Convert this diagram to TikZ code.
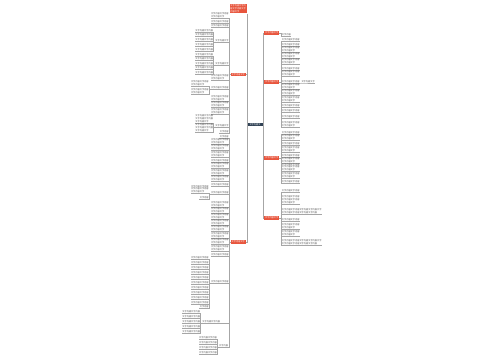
\documentclass[tikz,border=0pt]{standalone}
\usepackage{fontspec}
\newfontfamily\cjk{Noto Sans CJK SC}
\definecolor{brred}{HTML}{E8553D}
\definecolor{hubblue}{HTML}{2F4154}
\newcommand\wz{文字内容文字内容}
\newcommand\wzs{文字内容文字}
\newcommand\fillr[1]{\ifcase#1 文字内容\or \wz\or \wz\\\wzs\or \wz\\\wz\\\wzs\or \wz\wz{}文字\\\wz\wz\or \wzs\fi}

\begin{document}
\begin{tikzpicture}[x=1pt,y=-1pt,
  txt/.style={font=\cjk\fontsize{2.2}{2.8}\selectfont},
  leaf/.style={txt,inner xsep=0.3pt,inner ysep=0.4pt,align=left,text=black!70},
  branch/.style={txt,fill=brred,text=white,inner sep=0.4pt,minimum width=15pt,minimum height=3.6pt},
  hub/.style={txt,fill=hubblue,text=white,inner sep=0.4pt,minimum width=15pt,minimum height=3.6pt},
  conn/.style={draw=black!35,line width=0.3pt}]
\fill[white] (0,0) rectangle (500,360);

% centre
\node[hub] (hub) at (255,124.5) {文字内容文};
\coordinate (lt) at ([xshift=-0.5pt]hub.west);
\coordinate (rt) at ([xshift=0.5pt]hub.east);
\draw[conn] (hub.west) -- (lt);
\draw[conn] (hub.east) -- (rt);

% left branches
\node[branch,align=left,inner sep=0.8pt,anchor=south east] (T) at (lt |- 0,13.5) {文字内容文字内\\容文字内容文字\\内容文字};
\draw[conn] (lt) |- (T.south east);
\node[branch,anchor=east] (L1) at (246,74.5) {\fillr{5}};
\draw[conn] (lt) |- (L1.east);
\node[branch,anchor=east] (L2) at (246,242) {\fillr{5}};
\draw[conn] (lt) |- (L2.east);

% right branches
\node[branch,anchor=west] (R1) at (264,33) {\fillr{5}};
\draw[conn] (rt) |- (R1.west);
\node[branch,anchor=west] (R2) at (264,82) {\fillr{5}};
\draw[conn] (rt) |- (R2.west);
\node[branch,anchor=west] (R3) at (264,158) {\fillr{5}};
\draw[conn] (rt) |- (R3.west);
\node[branch,anchor=west] (R4) at (264,218) {\fillr{5}};
\draw[conn] (rt) |- (R4.west);

% L1
\coordinate (L1t) at ([xshift=-1.5pt]L1.west);
\foreach \b/\k [count=\i] in {18.5/2,23/1,27.5/1,80/2,101/2,107.5/2,114/2,133.5/0} {
  \path (L1t |- 0,\b) node[leaf,anchor=south east] (l1-\i) {\fillr{\k}};
  \draw[conn] (L1.west) -- (L1t) |- (l1-\i.south east) -- (l1-\i.south west);
}
\path (L1t |- 0,42.5) node[leaf,anchor=south east] (A) {\fillr{5}};
\draw[conn] (L1.west) -- (L1t) |- (A.south east) -- (A.south west);
\coordinate (At) at ([xshift=-1.4pt]A.south west);
\foreach \b/\k [count=\i] in {32/1,36.5/1,41/1,46/1,51/1} {
  \path (At |- 0,\b) node[leaf,anchor=south east] (a-\i) {\fillr{\k}};
  \draw[conn] (A.south west) -- (At) |- (a-\i.south east) -- (a-\i.south west);
}
\path (L1t |- 0,65) node[leaf,anchor=south east] (B) {\fillr{5}};
\draw[conn] (L1.west) -- (L1t) |- (B.south east) -- (B.south west);
\coordinate (Bt) at ([xshift=-1.4pt]B.south west);
\foreach \b/\k [count=\i] in {56/1,60.5/1,65/1,69.5/1,74/1} {
  \path (Bt |- 0,\b) node[leaf,anchor=south east] (b-\i) {\fillr{\k}};
  \draw[conn] (B.south west) -- (Bt) |- (b-\i.south east) -- (b-\i.south west);
}
\path (L1t |- 0,89.5) node[leaf,anchor=south east] (D1) {\fillr{1}};
\draw[conn] (L1.west) -- (L1t) |- (D1.south east) -- (D1.south west);
\coordinate (D1t) at ([xshift=-1.4pt]D1.south west);
\foreach \b/\k [count=\i] in {86/2,94/2} {
  \path (D1t |- 0,\b) node[leaf,anchor=south east] (d1-\i) {\fillr{\k}};
  \draw[conn] (D1.south west) -- (D1t) |- (d1-\i.south east) -- (d1-\i.south west);
}
\path (L1t |- 0,127.5) node[leaf,anchor=south east] (C) {\fillr{5}};
\draw[conn] (L1.west) -- (L1t) |- (C.south east) -- (C.south west);
\coordinate (Ct) at ([xshift=-1.4pt]C.south west);
\foreach \b/\k [count=\i] in {123/3,132/3} {
  \path (Ct |- 0,\b) node[leaf,anchor=south east] (c-\i) {\fillr{\k}};
  \draw[conn] (C.south west) -- (Ct) |- (c-\i.south east) -- (c-\i.south west);
}

% L2
\coordinate (L2t) at ([xshift=-1.5pt]L2.west);
\foreach \b/\k [count=\i] in {138/0,144/2,150.5/2,157/2,162.5/1,168.5/2,175/2,181/2,186/1,207/2,213/2,219/2,225/2,231.5/2,238/2,244.5/2,251/2,256/1} {
  \path (L2t |- 0,\b) node[leaf,anchor=south east] (l2-\i) {\fillr{\k}};
  \draw[conn] (L2.west) -- (L2t) |- (l2-\i.south east) -- (l2-\i.south west);
}
\path (L2t |- 0,194.5) node[leaf,anchor=south east] (D) {\fillr{1}};
\draw[conn] (L2.west) -- (L2t) |- (D.south east) -- (D.south west);
\coordinate (Dt) at ([xshift=-1.4pt]D.south west);
\foreach \b/\k [count=\i] in {193.5/3,199.5/0} {
  \path (Dt |- 0,\b) node[leaf,anchor=south east] (d-\i) {\fillr{\k}};
  \draw[conn] (D.south west) -- (Dt) |- (d-\i.south east) -- (d-\i.south west);
}
\path (L2t |- 0,283.5) node[leaf,anchor=south east] (E) {\fillr{1}};
\draw[conn] (L2.west) -- (L2t) |- (E.south east) -- (E.south west);
\coordinate (Et) at ([xshift=-1.4pt]E.south west);
\foreach \b/\k [count=\i] in {259.5/1,264.5/1,269.5/1,274.5/1,279.5/1,284.5/1,289.5/1,294.5/1,299.5/1,304.5/1,308.5/0} {
  \path (Et |- 0,\b) node[leaf,anchor=south east] (e-\i) {\fillr{\k}};
  \draw[conn] (E.south west) -- (Et) |- (e-\i.south east) -- (e-\i.south west);
}
\node[leaf,anchor=south east] (F) at (220.5,323) {\fillr{1}};
\draw[conn] (L2.west) -- (L2t) |- (F.south east) -- (F.south west);
\coordinate (Ft) at ([xshift=-1.4pt]F.south west);
\foreach \b/\k [count=\i] in {313/1,318/1,323/1,328/1,333/1} {
  \path (Ft |- 0,\b) node[leaf,anchor=south east] (f-\i) {\fillr{\k}};
  \draw[conn] (F.south west) -- (Ft) |- (f-\i.south east) -- (f-\i.south west);
}
\node[leaf,anchor=south east] (G) at (228.5,347) {\fillr{0}};
\draw[conn] (L2.west) -- (L2t) |- (G.south east) -- (G.south west);
\coordinate (Gt) at ([xshift=-1.4pt]G.south west);
\foreach \b/\k [count=\i] in {339.5/1,344.5/1,349.5/1,354.5/1} {
  \path (Gt |- 0,\b) node[leaf,anchor=south east] (g-\i) {\fillr{\k}};
  \draw[conn] (G.south west) -- (Gt) |- (g-\i.south east) -- (g-\i.south west);
}

% R1
\coordinate (R1t) at ([xshift=2pt]R1.east);
\path (R1t |- 0,36.5) node[leaf,anchor=south west] (r1-1) {\fillr{0}};
\draw[conn] (R1.east) -- (R1t) |- (r1-1.south west) -- (r1-1.south east);

% R2
\coordinate (R2t) at ([xshift=2pt]R2.east);
\foreach \b/\k [count=\i] in {41.5/1,46/1,52.5/2,58.5/2,64.5/2,70/1,76.5/2,83/1,89.5/2,95.5/2,102/2,107.5/1,112.5/1,118/1,127/2} {
  \path (R2t |- 0,\b) node[leaf,anchor=south west] (r2-\i) {\fillr{\k}};
  \draw[conn] (R2.east) -- (R2t) |- (r2-\i.south west) -- (r2-\i.south east);
}
\node[leaf,anchor=south west] (r2x) at ([xshift=1pt]r2-8.south east) {\fillr{5}};
\draw[conn] (r2-8.south east) -- (r2x.south west) -- (r2x.south east);

% R3
\coordinate (R3t) at ([xshift=2pt]R3.east);
\foreach \b/\k [count=\i] in {134.5/1,140.5/2,145.5/1,152/2,157/1,163/2,171.5/3,178/2,183.5/1} {
  \path (R3t |- 0,\b) node[leaf,anchor=south west] (r3-\i) {\fillr{\k}};
  \draw[conn] (R3.east) -- (R3t) |- (r3-\i.south west) -- (r3-\i.south east);
}

% R4
\coordinate (R4t) at ([xshift=2pt]R4.east);
\foreach \b/\k [count=\i] in {192/1,204/3,214/4,221.5/1,229/2,236/2,245.5/4} {
  \path (R4t |- 0,\b) node[leaf,anchor=south west] (r4-\i) {\fillr{\k}};
  \draw[conn] (R4.east) -- (R4t) |- (r4-\i.south west) -- (r4-\i.south east);
}
\end{tikzpicture}
\end{document}
